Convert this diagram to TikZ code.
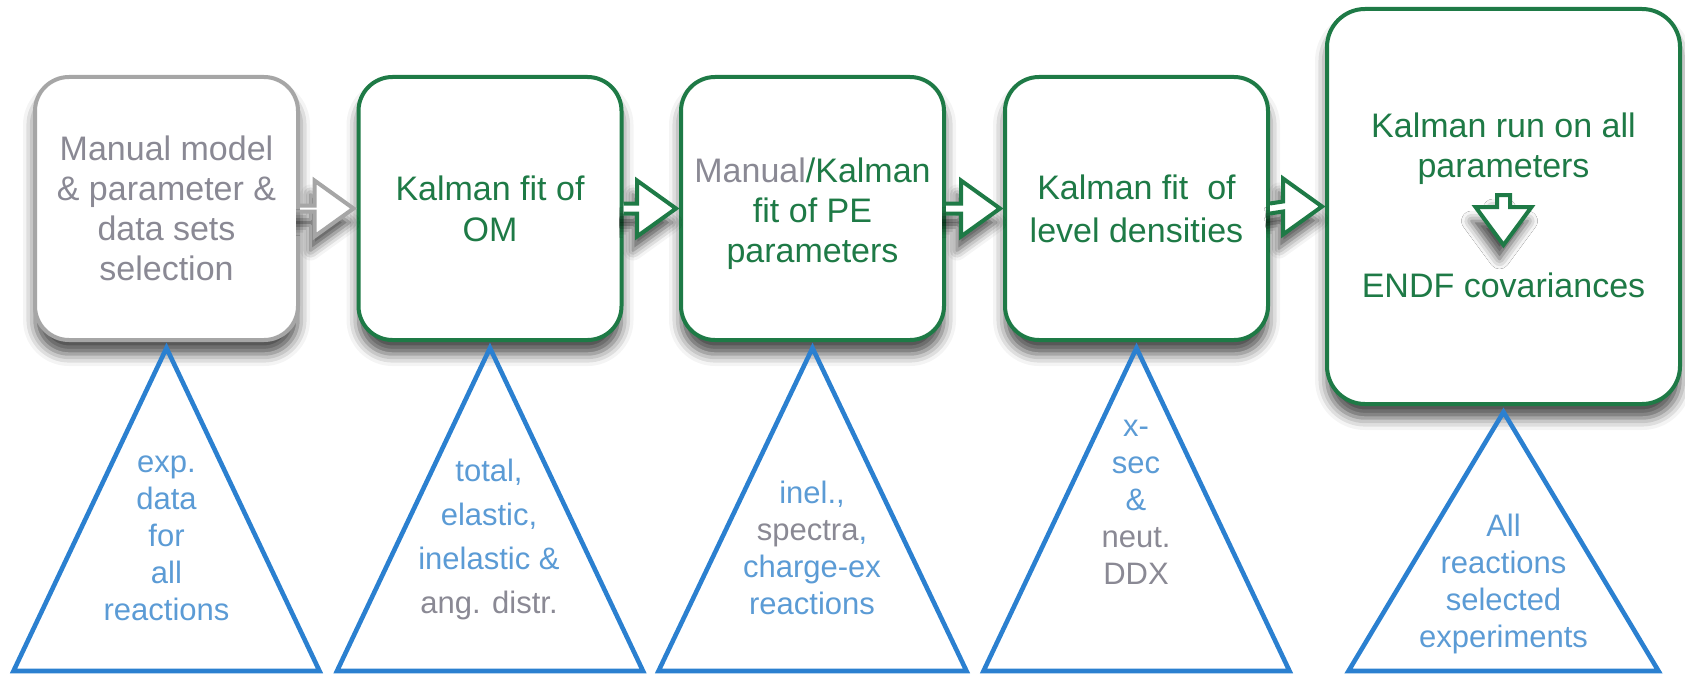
\documentclass[tikz,border=0pt]{standalone}
\usepackage{fontspec}
\setmainfont{Liberation Sans}
\usetikzlibrary{calc,shadows.blur}
\definecolor{kgreen}{RGB}{30,122,70}
\definecolor{tgray}{RGB}{138,137,148}
\definecolor{bgray}{RGB}{166,166,166}
\definecolor{lblue}{RGB}{91,155,213}
\definecolor{tblue}{RGB}{43,128,208}
\tikzset{
  softshadow/.style={blur shadow={shadow xshift=0pt, shadow yshift=-7pt, shadow blur radius=6pt, shadow opacity=70}},
  arrowshadow/.style={blur shadow={shadow xshift=-2pt, shadow yshift=-7pt, shadow blur radius=5pt, shadow opacity=70}},
  box/.style={draw, line width=2pt, rounded corners=17pt, fill=white,
    minimum width=131.5pt, minimum height=131.5pt, align=center, inner sep=0pt,
    font=\fontsize{17}{20}\selectfont, softshadow},
  boxtext/.style={align=center, inner sep=0pt, text=kgreen, font=\fontsize{17}{20}\selectfont},
  tri/.style={draw=tblue, line width=2.3pt, line join=miter},
  ttext/.style={align=center, inner sep=0pt, text=lblue, font=\fontsize{15.5}{18.5}\selectfont},
  barrow/.style={fill=white, line width=2pt, line join=miter, arrowshadow}
}
\newcommand\blkarrow[4]{% colour, from, to, stem half height
  \draw[barrow, draw=#1] ($(#2.east)+(0,-#4)$) -- ($(#3.west)+(-42,-#4)$)
    -- ($(#3.west)+(-42,-28)$) -- ($(#3.west)+(-3,0)$) -- ($(#3.west)+(-42,28)$)
    -- ($(#3.west)+(-42,#4)$) -- ($(#2.east)+(0,#4)$);}
\begin{document}
\begin{tikzpicture}[x=0.5pt,y=-0.5pt]
\useasboundingbox (0,0) rectangle (1685,674);

% boxes
\node[box, draw=bgray, text=tgray] (b1) at (166.5,208.5)
  {Manual model\\\& parameter \&\\data sets\\selection};
\node[box, draw=kgreen, text=kgreen, font=\fontsize{17}{20.5}\selectfont] (b2) at (490,208.5) {Kalman fit of\\OM};
\node[box, draw=kgreen] (b3) at (812.5,208.5) {};
\node[boxtext] (b3t) at ($(b3.center)+(0,5)$)
  {\textcolor{tgray}{Manual}/Kalman\\fit of PE\\parameters};
\node[box, draw=kgreen, text=kgreen, font=\fontsize{17}{21.5}\selectfont] (b4) at (1136.5,208.5) {Kalman fit\ \ of\\level densities};
\node[box, draw=kgreen, minimum width=176.5pt, minimum height=197.5pt, rounded corners=19pt] (b5) at (1503.5,206.5) {};

% block arrows between boxes
\blkarrow{bgray}{b1}{b2}{3}
\blkarrow{kgreen}{b2}{b3}{5}
\blkarrow{kgreen}{b3}{b4}{5}
\blkarrow{kgreen}{b4}{b5}{5}

% contents of the last box
\node[boxtext] (k5) at (1503.5,149) {Kalman run on all\\parameters};
\node[boxtext] (e5) at (1503.5,285) {ENDF covariances};
\coordinate (dtop) at (1503.5,195);
\draw[barrow, draw=kgreen] ($(dtop)+(-6.5,0)$) -- ($(dtop)+(6.5,0)$) -- ($(dtop)+(6.5,12)$)
  -- ($(dtop)+(28,12)$) -- ($(dtop)+(0,50)$) -- ($(dtop)+(-28,12)$) -- ($(dtop)+(-6.5,12)$) -- cycle;

% triangles
\draw[tri] ($(b1.south)+(0,6)$) -- ++(-153,323) -- ++(306,0) -- cycle;
\draw[tri] ($(b2.south)+(0,6)$) -- ++(-153,323) -- ++(306,0) -- cycle;
\draw[tri] ($(b3.south)+(0,6)$) -- ++(-154,323) -- ++(308,0) -- cycle;
\draw[tri] ($(b4.south)+(0,6)$) -- ++(-153,323) -- ++(306,0) -- cycle;
\draw[tri] ($(b5.south)+(0,6)$) -- ++(-155,259) -- ++(310,0) -- cycle;

% triangle texts
\node[ttext] (t1) at (166.5,538) {exp.\\data\\for\\all\\reactions};
\node[ttext, font=\fontsize{15.5}{22}\selectfont] (t2) at (489,539)
  {total,\\elastic,\\inelastic \&\\\textcolor{tgray}{ang. distr.}};
\node[ttext] (t3) at (812,548) {inel.,\\\textcolor{tgray}{spectra},\\charge-ex\\reactions};
\node[ttext] (t4) at (1136,502) {x-\\sec\\\&\\\textcolor{tgray}{neut.}\\\textcolor{tgray}{DDX}};
\node[ttext] (t5) at (1503.5,584) {All\\reactions\\selected\\experiments};
\end{tikzpicture}
\end{document}
